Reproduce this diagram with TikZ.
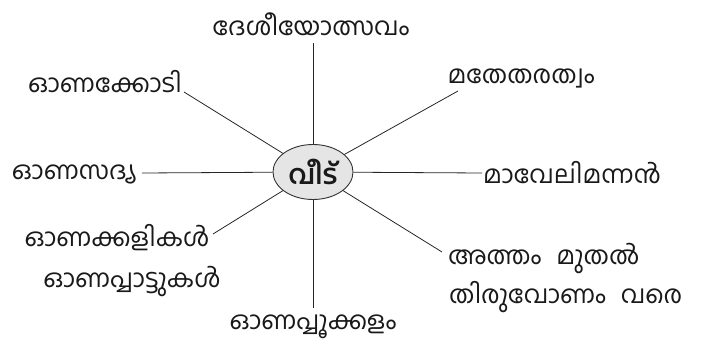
\documentclass[tikz,border=0pt]{standalone}
\usepackage{fontspec}
\newfontfamily\mal[Script=Malayalam]{Hind Kochi}
\usetikzlibrary{shapes.geometric}
\tikzset{
  lbl/.style={font=\mal\fontsize{25}{28}\selectfont, inner sep=0pt, text=black!90},
  hub/.style={ellipse, draw=black!80, line width=0.9pt, fill=black!10, minimum width=80pt, minimum height=55pt, inner sep=0pt, font=\mal\bfseries\fontsize{27}{30}\selectfont, text=black!90},
  spoke/.style={draw=black!85, line width=0.8pt}
}
\begin{document}
\begin{tikzpicture}[x=1pt,y=-1pt]
\useasboundingbox (0,0) rectangle (705,347);
\node[hub] (c) at (313,172) {വീട്};
\node[lbl] (t1) at (311,24) {ദേശീയോത്സവം};
\node[lbl] (t2) at (105,82) {ഓണക്കോടി};
\node[lbl] (t3) at (521,78) {മതേതരത്വം};
\node[lbl] (t4) at (74,174) {ഓണസദ്യ};
\node[lbl] (t5) at (572,173) {മാവേലിമന്നൻ};
\node[lbl] (t6) at (117,238) {ഓണക്കളികൾ};
\node[lbl] (t6b) at (132,282) {ഓണപ്പാട്ടുകൾ};
\node[lbl, anchor=west] (t7) at (448,259) {അത്തം\hspace{0.6em}മുതൽ};
\node[lbl, anchor=west] (t7b) at (449,297) {തിരുവോണം\hspace{0.6em}വരെ};
\node[lbl] (t8) at (313,327) {ഓണപ്പൂക്കളം};
\coordinate (e1) at (313,43);
\coordinate (e2) at (184,92);
\coordinate (e3) at (458,91);
\coordinate (e4) at (142,173);
\coordinate (e5) at (482,173);
\coordinate (e6) at (213,234);
\coordinate (e7) at (442,252);
\coordinate (e8) at (313,308);
\foreach \e in {e1,e2,e3,e4,e5,e6,e7,e8} \draw[spoke] (c) -- (\e);
\end{tikzpicture}
\end{document}
